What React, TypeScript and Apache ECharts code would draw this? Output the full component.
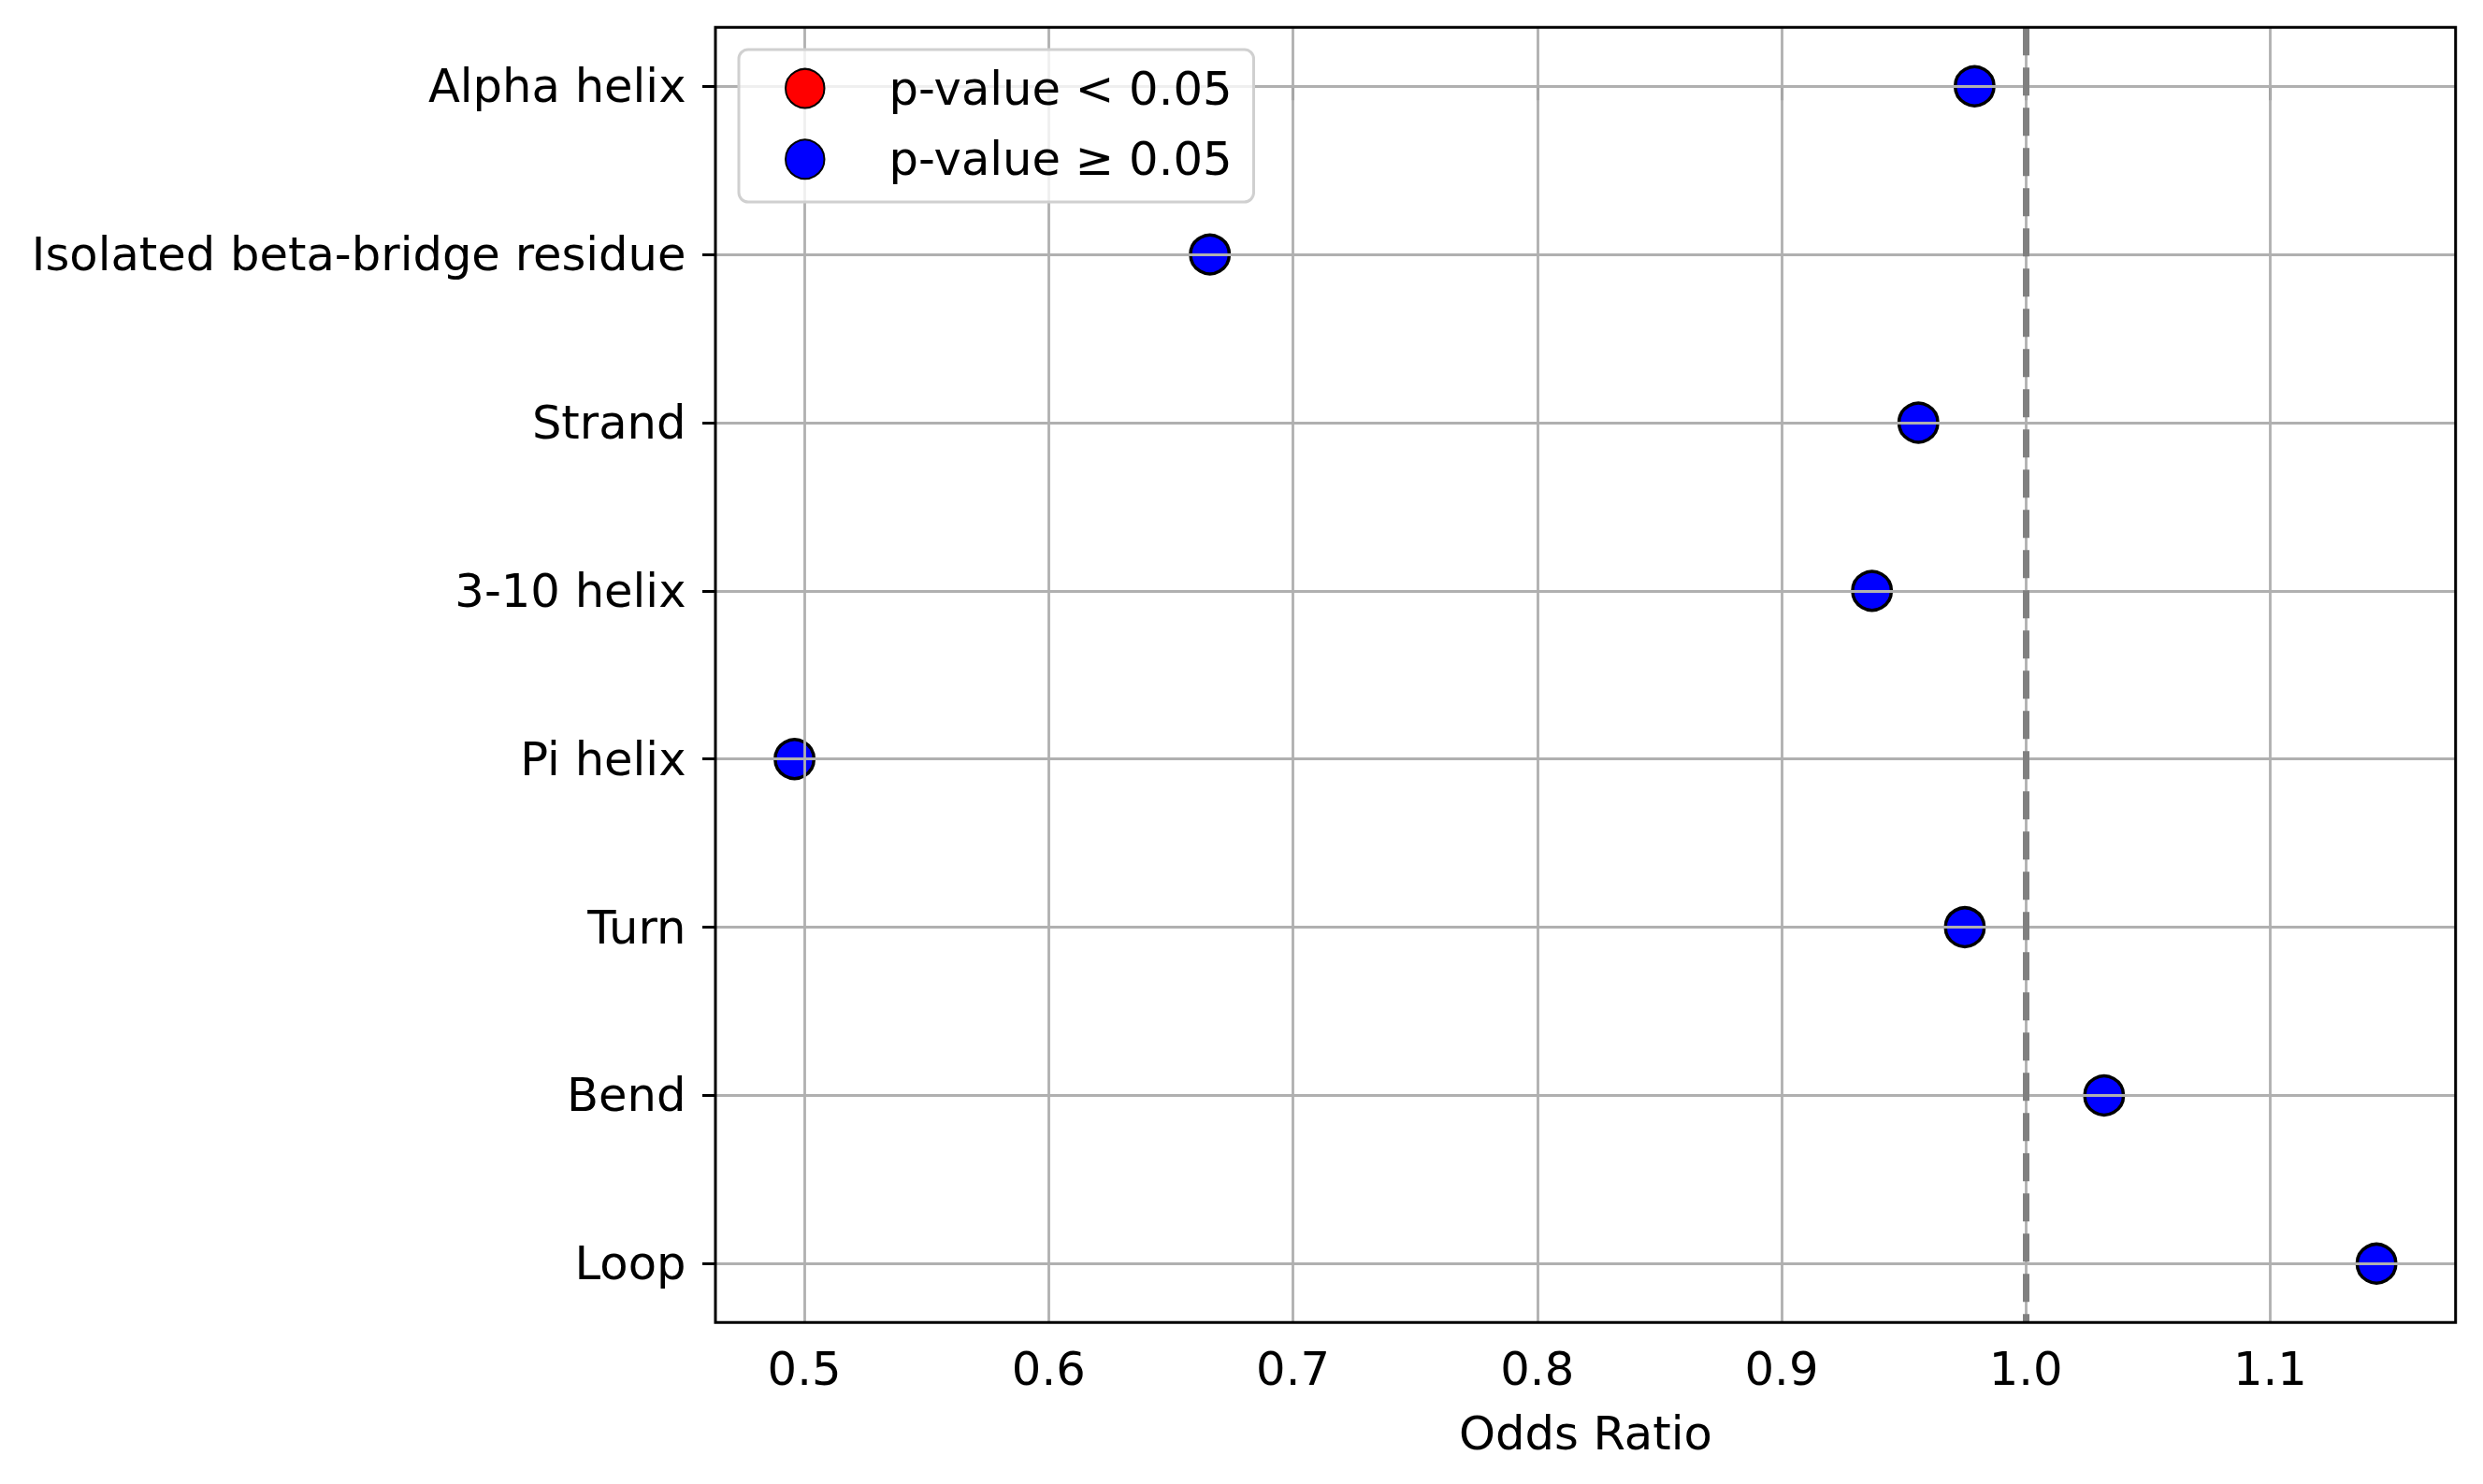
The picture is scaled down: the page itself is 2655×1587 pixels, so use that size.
import React, { useEffect, useRef } from "react";
import * as echarts from "echarts";

const categories = [
  "Alpha helix",
  "Isolated beta-bridge residue",
  "Strand",
  "3-10 helix",
  "Pi helix",
  "Turn",
  "Bend",
  "Loop",
];
const oddsRatios = [0.979, 0.666, 0.956, 0.937, 0.496, 0.975, 1.032, 1.1435];
const significant = [false, false, false, false, false, false, false, false];
const xTicks = [0.5, 0.6, 0.7, 0.8, 0.9, 1.0, 1.1];
const referenceValue = 1.0;
const legendNames = ["p-value < 0.05", "p-value \u2265 0.05"];

const FONT = "DejaVu Sans";
const FS = 49.6;

export default function App() {
  const ref = useRef<HTMLDivElement>(null);

  useEffect(() => {
    if (!ref.current) return;
    const chart = echarts.init(ref.current, undefined, { renderer: "svg" });

    const dMin = Math.min(...oddsRatios);
    const dMax = Math.max(...oddsRatios);
    const pad = (dMax - dMin) * 0.05;
    const n = categories.length;

    const sigData = oddsRatios
      .map((v, i) => [v, i, significant[i]])
      .filter((d) => d[2])
      .map((d) => [d[0], d[1]]);
    const nsData = oddsRatios
      .map((v, i) => [v, i, significant[i]])
      .filter((d) => !d[2])
      .map((d) => [d[0], d[1]]);

    const markerStyle = (color: string) => ({
      color,
      borderColor: "#000000",
      borderWidth: 3.5,
      opacity: 1,
    });

    chart.setOption({
      animation: false,
      backgroundColor: "#ffffff",
      textStyle: { fontFamily: FONT },
      grid: {
        left: 765,
        top: 29.3,
        right: 29.3,
        bottom: 172.7,
        show: true,
        borderColor: "#000000",
        borderWidth: 3,
        backgroundColor: "transparent",
        z: 6,
      },
      legend: {
        data: legendNames,
        orient: "vertical",
        left: 790,
        top: 53,
        padding: [16.6, 23, 20.7, 49],
        itemWidth: 41.5,
        itemHeight: 41.5,
        itemGap: 25.7,
        backgroundColor: "rgba(255,255,255,0.8)",
        borderColor: "#d0d0d0",
        borderWidth: 3,
        borderRadius: 10,
        selectedMode: false,
        z: 10,
        textStyle: {
          fontFamily: FONT,
          fontSize: FS,
          color: "#000000",
          lineHeight: 41.5,
          padding: [0, 0, 0, 64],
        },
      },
      xAxis: {
        type: "value",
        min: dMin - pad,
        max: dMax + pad,
        name: "Odds Ratio",
        nameLocation: "middle",
        nameGap: 95,
        nameTextStyle: { fontFamily: FONT, fontSize: FS, color: "#000000", lineHeight: 48 },
        axisLine: { show: false },
        axisTick: {
          show: true,
          customValues: xTicks,
          length: 15,
          lineStyle: { color: "#000000", width: 3 },
        },
        axisLabel: {
          customValues: xTicks,
          margin: 26,
          fontFamily: FONT,
          fontSize: FS,
          color: "#000000",
          lineHeight: 48,
          formatter: (v: number) => v.toFixed(1),
        },
        splitLine: { show: false },
      },
      yAxis: {
        type: "value",
        min: -0.35,
        max: n - 1 + 0.35,
        inverse: true,
        axisLine: { show: false },
        axisTick: {
          show: true,
          customValues: categories.map((_, i) => i),
          length: 14,
          lineStyle: { color: "#000000", width: 3 },
        },
        axisLabel: {
          customValues: categories.map((_, i) => i),
          margin: 31.5,
          fontFamily: FONT,
          fontSize: FS,
          color: "#000000",
          formatter: (v: number) => categories[Math.round(v)] ?? "",
        },
        splitLine: { show: false },
      },
      series: [
        {
          name: legendNames[0],
          type: "scatter",
          data: sigData,
          symbol: "circle",
          symbolSize: 41.5,
          itemStyle: markerStyle("#ff0000"),
          z: 2,
          silent: true,
        },
        {
          name: legendNames[1],
          type: "scatter",
          data: nsData,
          symbol: "circle",
          symbolSize: 41.5,
          itemStyle: markerStyle("#0000ff"),
          z: 2,
          silent: true,
        },
        {
          name: "__grid",
          type: "scatter",
          data: [],
          silent: true,
          markLine: {
            silent: true,
            z: 5,
            symbol: ["none", "none"],
            label: { show: false },
            emphasis: { disabled: true },
            lineStyle: { color: "#b0b0b0", width: 2.8, type: "solid" },
            data: [
              ...xTicks.map((v) => ({ xAxis: v })),
              ...categories.map((_, i) => ({ yAxis: i })),
            ],
          },
        },
        {
          name: "__ref",
          type: "scatter",
          data: [],
          silent: true,
          markLine: {
            silent: true,
            z: 5.5,
            symbol: ["none", "none"],
            label: { show: false },
            emphasis: { disabled: true },
            lineStyle: { color: "#808080", width: 7, type: [30, 13] },
            data: [{ xAxis: referenceValue }],
          },
        },
      ],
    });

    return () => chart.dispose();
  }, []);

  return (
    <div
      ref={ref}
      style={{ position: "absolute", left: 0, top: 0, width: 2655, height: 1587 }}
    />
  );
}
